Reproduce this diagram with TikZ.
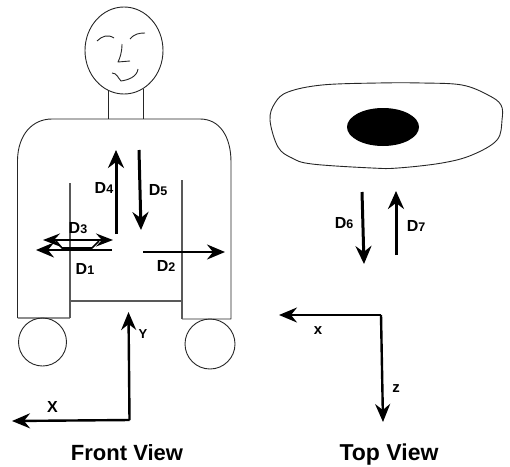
\documentclass[tikz,border=0pt]{standalone}
\usepackage{fontspec}
\setmainfont{Liberation Sans}
\usetikzlibrary{arrows.meta}
\tikzset{
  every picture/.style={line join=round},
  thin line/.style={draw=black!85,line width=0.9pt},
  inner line/.style={draw=black!65,line width=1.3pt},
  bigarrow/.style={draw=black,line width=3pt,-{Stealth[length=18pt,width=16pt,inset=6pt]}},
  medarrow/.style={draw=black,line width=2.4pt,-{Stealth[length=18pt,width=15pt,inset=6pt]}},
  lab/.style={font=\bfseries\fontsize{16}{16}\selectfont,inner sep=0pt},
  smalllab/.style={font=\bfseries\fontsize{13}{13}\selectfont,inner sep=0pt},
  lowlab/.style={font=\bfseries\fontsize{15}{15}\selectfont,inner sep=0pt},
  title/.style={font=\bfseries\fontsize{22}{22}\selectfont,inner sep=0pt},
}
\newcommand{\dlab}[1]{D{\fontsize{12.5}{12.5}\selectfont #1}}
\begin{document}
\begin{tikzpicture}[x=1pt,y=-1pt]
\useasboundingbox (0,0) rectangle (510,466);
% figure
\draw[thin line] (124,50.5) ellipse [x radius=39,y radius=43.5];
\draw[thin line] (97,41) .. controls (102,36) and (108,34) .. (114,38);
\draw[thin line] (130,39) .. controls (134,34) and (139,33) .. (145,33);
\draw[thin line] (122,44) .. controls (122,52) and (120,58) .. (118,62) -- (130,61);
\draw[thin line] (112,73) .. controls (117,73) and (118,78) .. (121,81) .. controls (128,80) and (137,77) .. (138,69);
\draw[thin line] (108.5,90) -- (108.5,119) (143.5,89) -- (143.5,119);
\draw[thin line] (17.5,318) -- (17.5,160) .. controls (18,135) and (32,119) .. (52,119) -- (200,119) .. controls (220,119) and (231,137) .. (231,162) -- (231,319) -- (182,319);
\draw[inner line,draw=black!45] (17.5,318) -- (70,318);
\draw[inner line] (70,183) -- (70,318) (70,301) -- (182,301) (182,180) -- (182,319);
\draw[thin line] (42.5,342) circle [radius=24];
\draw[thin line] (210,344) circle [radius=25];
% trapezoid under D3
\draw[draw=black,line width=1.6pt] (56,241) -- (62,248) -- (92,248) -- (99,241);
% front arrows
\coordinate (d4a) at (116,234); \coordinate (d4b) at (116,150);
\coordinate (d5a) at (139,150); \coordinate (d5b) at (141,230);
\coordinate (d3a) at (43,240); \coordinate (d3b) at (113,240);
\coordinate (d1a) at (112,250); \coordinate (d1b) at (36,250);
\coordinate (d2a) at (143,252); \coordinate (d2b) at (225,252);
\coordinate (fo) at (129.5,420); \coordinate (fy) at (128.5,312); \coordinate (fx) at (12,421);
\draw[bigarrow] (d4a) -- (d4b);
\draw[bigarrow] (d5a) -- (d5b);
\draw[medarrow,{Stealth[length=17pt,width=13pt,inset=6pt]}-{Stealth[length=17pt,width=13pt,inset=6pt]}] (d3a) -- (d3b);
\draw[medarrow] (d1a) -- (d1b);
\draw[medarrow] (d2a) -- (d2b);
\draw[medarrow] (fo) -- (fy);
\draw[medarrow] (fo) -- (fx);
% labels front
\node[lab] (l4) at (104,188) {\dlab{4}};
\node[lab] (l5) at (158,190) {\dlab{5}};
\node[lab] (l3) at (78,228) {\dlab{3}};
\node[lab] (l1) at (85,269) {\dlab{1}};
\node[lab] (l2) at (166,266) {\dlab{2}};
\node[smalllab] (ly) at (143,334) {Y};
\node[lab] (lx) at (52.5,407) {X};
\node[title] (fv) at (127,453) {Front View};
% top view
\draw[thin line] plot[smooth cycle,tension=0.6] coordinates {(270,120) (275,103) (288,92) (322,85) (378,83) (422,83) (462,85) (488,95) (501,105) (502,120) (497,140) (472,155) (442,163) (398,168) (372,168) (312,164) (292,158) (278,147)};
\fill[black] (383,127) ellipse [x radius=36,y radius=19];
\coordinate (d6a) at (362,192); \coordinate (d6b) at (364,264);
\coordinate (d7a) at (396,255); \coordinate (d7b) at (396,191);
\coordinate (to) at (381,315); \coordinate (tx) at (279,315); \coordinate (tz) at (383,422);
\draw[bigarrow] (d6a) -- (d6b);
\draw[bigarrow] (d7a) -- (d7b);
\draw[medarrow] (to) -- (tx);
\draw[medarrow] (to) -- (tz);
\node[lab] (l6) at (344,223) {\dlab{6}};
\node[lab] (l7) at (416,226) {\dlab{7}};
\node[lowlab] (ltx) at (318,331) {x};
\node[lowlab] (ltz) at (396,389) {z};
\node[title,font=\bfseries\fontsize{23}{23}\selectfont] (tv) at (389,455) {Top View};
\end{tikzpicture}
\end{document}
